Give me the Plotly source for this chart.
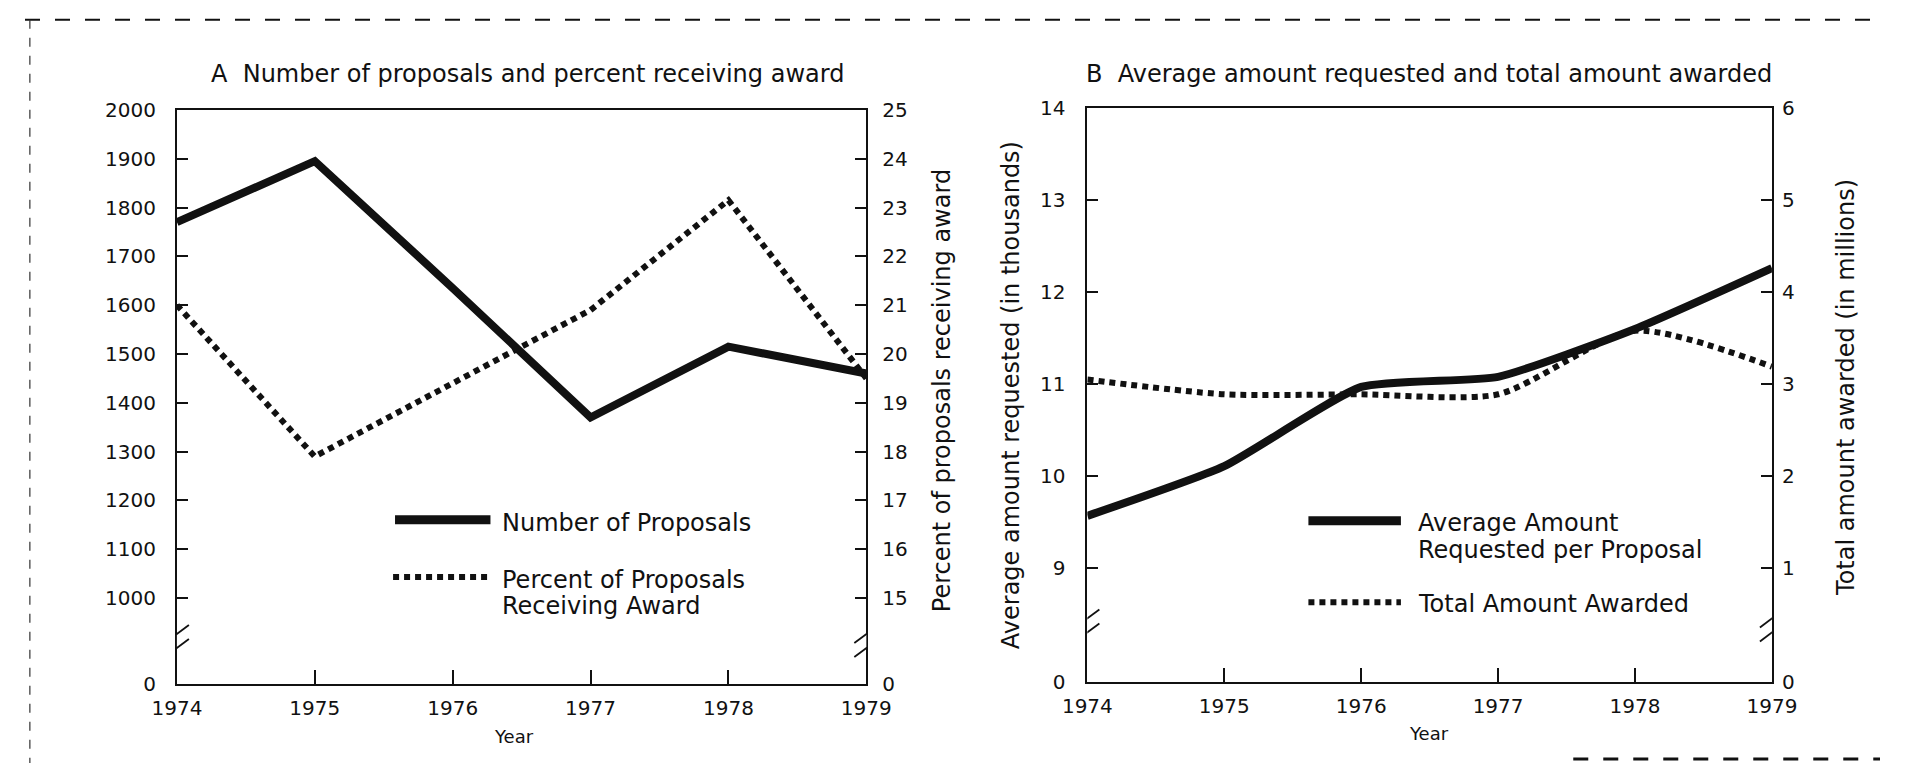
import plotly.graph_objects as go

# ---------------- data ----------------
years = [1974, 1975, 1976, 1977, 1978, 1979]
x_tick_labels = ["1974", "1975", "1976", "1977", "1978", "1979"]

# Panel A
num_proposals = [1770, 1895, 1635, 1370, 1515, 1460]
pct_award = [21.0, 17.9, 19.4, 20.9, 23.15, 19.5]
a_left_ticks = [1000, 1100, 1200, 1300, 1400, 1500, 1600, 1700, 1800, 1900, 2000]
a_right_ticks = [15, 16, 17, 18, 19, 20, 21, 22, 23, 24, 25]

# Panel B
avg_requested = [9.57, 10.11, 10.97, 11.08, 11.60, 12.26]
total_awarded = [3.05, 2.89, 2.89, 2.89, 3.58, 3.19]
b_left_ticks = [9, 10, 11, 12, 13, 14]
b_right_ticks = [1, 2, 3, 4, 5, 6]

# ---------------- layout helpers ----------------
W, H = 1905, 775
def px(x):
    return x / W
def py(y):
    return 1 - y / H

INK = "#111111"
FONT = "DejaVu Sans, Liberation Sans, sans-serif"

# broken-axis: bottom "0" is placed below the lowest labelled tick
A_ZERO = 825       # proposals-scale value at the "0" position
A_PCT_ZERO = 15 - (1000 - A_ZERO) / 100.0
B_ZERO = 7.77
B_R_ZERO = B_ZERO - 8
DOT = "6px,5px"

fig = go.Figure()

# Panel A traces
fig.add_trace(go.Scatter(x=years, y=num_proposals, mode="lines",
                         line=dict(color=INK, width=8), xaxis="x", yaxis="y",
                         showlegend=False, name="Number of Proposals"))
fig.add_trace(go.Scatter(x=years, y=pct_award, mode="lines",
                         line=dict(color=INK, width=6, dash=DOT),
                         xaxis="x", yaxis="y2", showlegend=False,
                         name="Percent of Proposals Receiving Award"))
# Panel B traces
fig.add_trace(go.Scatter(x=years, y=avg_requested, mode="lines",
                         line=dict(color=INK, width=8, shape="spline", smoothing=0.5),
                         xaxis="x2", yaxis="y3", showlegend=False,
                         name="Average Amount Requested per Proposal"))
fig.add_trace(go.Scatter(x=years, y=total_awarded, mode="lines",
                         line=dict(color=INK, width=6, dash=DOT, shape="spline", smoothing=0.7),
                         xaxis="x2", yaxis="y4", showlegend=False,
                         name="Total Amount Awarded"))

A_DOM_X = [px(156), px(864)]
A_DOM_Y = [py(693), py(101)]
B_DOM_X = [px(1091), px(1794)]
B_DOM_Y = [py(691), py(99)]

xcommon = dict(range=[1974, 1979], tickvals=years, ticktext=x_tick_labels,
               ticks="inside", ticklen=14, tickwidth=1.5, tickcolor=INK,
               showline=True, linecolor=INK, linewidth=2, mirror=True,
               showgrid=False, zeroline=False, ticklabelstandoff=5,
               tickfont=dict(family=FONT, size=20, color=INK))
ycommon = dict(ticks="inside", ticklen=11, tickwidth=1.5, tickcolor=INK,
               showline=True, linecolor=INK, linewidth=2,
               showgrid=False, zeroline=False,
               tickfont=dict(family=FONT, size=20, color=INK))

fig.update_layout(
    width=W, height=H, margin=dict(l=0, r=0, t=0, b=0),
    paper_bgcolor="white", plot_bgcolor="white", showlegend=False,
    xaxis=dict(domain=A_DOM_X, anchor="y", **xcommon),
    yaxis=dict(domain=A_DOM_Y, anchor="x", range=[A_ZERO, 2000],
               tickvals=[A_ZERO] + a_left_ticks,
               ticktext=["0"] + [str(v) for v in a_left_ticks],
               ticklabelstandoff=15, mirror=True, **ycommon),
    yaxis2=dict(overlaying="y", side="right", anchor="x",
                range=[A_PCT_ZERO, 25],
                tickvals=[A_PCT_ZERO] + a_right_ticks,
                ticktext=["0"] + [str(v) for v in a_right_ticks],
                ticklabelstandoff=10, **ycommon),
    xaxis2=dict(domain=B_DOM_X, anchor="y3", **xcommon),
    yaxis3=dict(domain=B_DOM_Y, anchor="x2", range=[B_ZERO, 14],
                tickvals=[B_ZERO] + b_left_ticks,
                ticktext=["0"] + [str(v) for v in b_left_ticks],
                ticklabelstandoff=16, mirror=True, **ycommon),
    yaxis4=dict(overlaying="y3", side="right", anchor="x2",
                range=[B_R_ZERO, 6],
                tickvals=[B_R_ZERO] + b_right_ticks,
                ticktext=["0"] + [str(v) for v in b_right_ticks],
                ticklabelstandoff=4, **ycommon),
)

shapes = []
# axis break marks
def brk(xref, yref, xval, yval):
    shapes.append(dict(type="rect", xref=xref, yref=yref, xsizemode="pixel", ysizemode="pixel",
                       xanchor=xval, yanchor=yval, x0=-4, x1=4, y0=-6, y1=6,
                       fillcolor="white", line=dict(width=0), layer="above"))
    for off in (-7, 7):
        shapes.append(dict(type="line", xref=xref, yref=yref, xsizemode="pixel", ysizemode="pixel",
                           xanchor=xval, yanchor=yval, x0=-12, x1=12, y0=off - 9, y1=off + 9,
                           line=dict(color=INK, width=1.8), layer="above"))

brk("x", "y", 1974, 912)
brk("x", "y", 1979, 912)
brk("x2", "y3", 1974, 8.38)
brk("x2", "y3", 1979, 8.38)

# legend samples (paper coords)
def sample(x0, x1, y, dotted):
    shapes.append(dict(type="line", xref="paper", yref="paper",
                       x0=px(x0), x1=px(x1), y0=py(y), y1=py(y),
                       line=dict(color=INK, width=6 if dotted else 9,
                                 dash=DOT if dotted else "solid")))

sample(380, 478, 524, False)
sample(378, 477, 583, True)
sample(1318, 1413, 525, False)
sample(1318, 1413, 609, True)

# page frame
shapes.append(dict(type="line", xref="paper", yref="paper", x0=0, x1=1, y0=py(8), y1=py(8),
                   line=dict(color=INK, width=2, dash="longdash")))
shapes.append(dict(type="line", xref="paper", yref="paper", x0=px(5), x1=px(5), y0=py(8), y1=0,
                   line=dict(color="#333333", width=1.2, dash="dash")))
shapes.append(dict(type="line", xref="paper", yref="paper", x0=px(1590), x1=1, y0=py(771), y1=py(771),
                   line=dict(color=INK, width=3, dash="longdash")))

fig.update_layout(shapes=shapes)

anns = []
def ann(text, x, y, size, angle=0, xanchor="center"):
    anns.append(dict(text=text, x=px(x), y=py(y), xref="paper", yref="paper",
                     showarrow=False, textangle=angle, xanchor=xanchor, yanchor="middle",
                     font=dict(family=FONT, size=size, color=INK)))

ann("A  Number of proposals and percent receiving award", 516, 64, 24)
ann("B  Average amount requested and total amount awarded", 1442, 64, 24)
ann("Year", 502, 748, 18)
ann("Year", 1442, 745, 18)
ann("Percent of proposals receiving award", 942, 391, 24, angle=-90)
ann("Average amount requested (in thousands)", 1012, 395, 24, angle=-90)
ann("Total amount awarded (in millions)", 1870, 387, 24, angle=-90)

ann("Number of Proposals", 488, 527, 24, xanchor="left")
ann("Percent of Proposals", 488, 586, 24, xanchor="left")
ann("Receiving Award", 488, 613, 24, xanchor="left")
ann("Average Amount", 1428, 527, 24, xanchor="left")
ann("Requested per Proposal", 1428, 555, 24, xanchor="left")
ann("Total Amount Awarded", 1428, 611, 24, xanchor="left")

fig.update_layout(annotations=anns)

fig.write_html("out.html")
